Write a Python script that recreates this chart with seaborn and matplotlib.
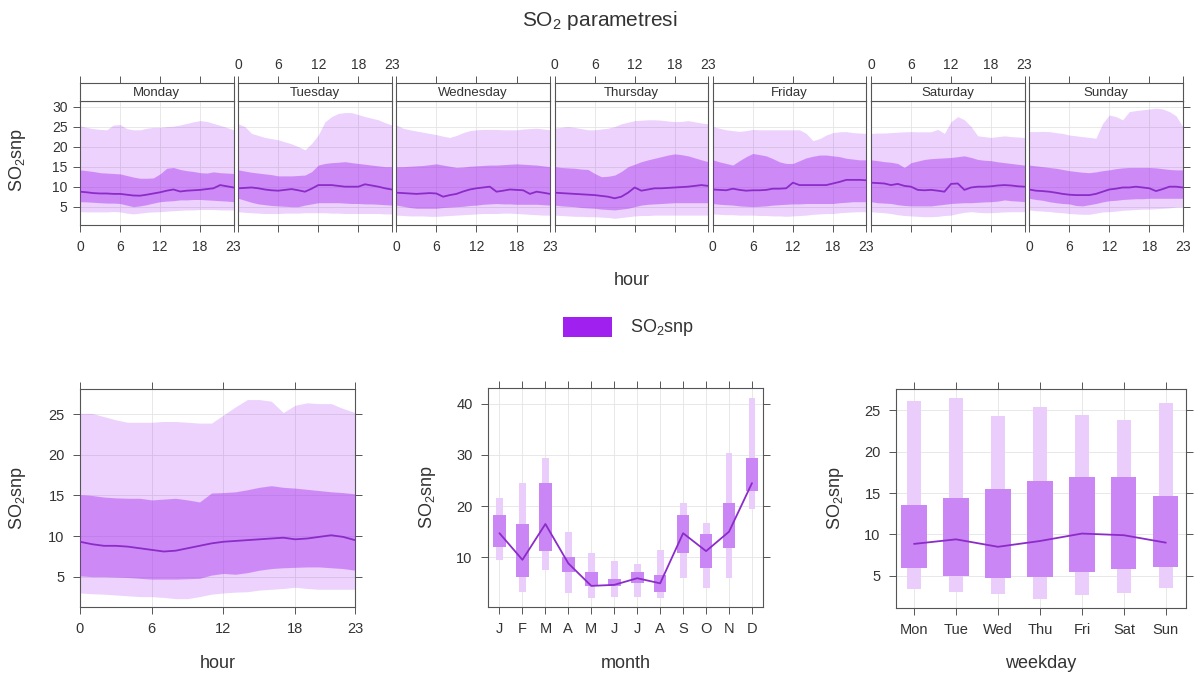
import numpy as np
import pandas as pd
import matplotlib
matplotlib.use("Agg")
import matplotlib.pyplot as plt
from matplotlib.patches import Rectangle
import seaborn as sns

sns.set_theme(style="white")
plt.rcParams['font.family'] = ['Liberation Sans', 'DejaVu Sans']
plt.rcParams['mathtext.fontset'] = 'custom'
plt.rcParams['mathtext.rm'] = 'Liberation Sans'
plt.rcParams['mathtext.it'] = 'Liberation Sans:italic'
plt.rcParams['mathtext.default'] = 'regular'

# ---------------- data ----------------
days = ["Monday", "Tuesday", "Wednesday", "Thursday", "Friday", "Saturday", "Sunday"]
hours = list(range(24))

mon_p95 = [25.2, 24.8, 24.5, 24.3, 24.2, 25.4, 25.5, 24.5, 24.2, 24.2, 24.6, 24.8, 24.8, 25.0, 25.1, 25.4, 25.8, 26.2, 26.5, 26.3, 25.8, 25.3, 24.8, 24.2]
mon_p75 = [14.2, 14.0, 13.8, 13.5, 13.4, 13.3, 13.2, 12.8, 12.4, 12.1, 12.1, 12.2, 13.2, 14.6, 14.8, 14.3, 14.0, 13.8, 13.5, 13.4, 13.7, 13.5, 13.4, 13.3]
mon_med = [8.75, 8.6, 8.4, 8.3, 8.3, 8.2, 8.2, 8.0, 7.8, 7.75, 8.0, 8.3, 8.6, 9.0, 9.3, 8.8, 9.0, 9.1, 9.2, 9.4, 9.6, 10.4, 10.1, 9.8]
mon_p25 = [6.25, 6.2, 6.1, 6.0, 5.9, 5.9, 5.8, 5.4, 5.0, 5.2, 5.5, 5.9, 6.25, 6.4, 6.5, 6.7, 6.7, 6.8, 6.8, 6.7, 6.6, 6.5, 6.4, 6.25]
mon_p5 = [3.75, 3.7, 3.7, 3.7, 3.7, 3.8, 3.7, 3.4, 3.2, 3.4, 3.6, 3.7, 3.75, 3.9, 4.0, 4.1, 4.2, 4.2, 4.3, 4.3, 4.3, 4.2, 4.2, 4.2]

tue_p95 = [25.7, 25.0, 23.3, 22.8, 22.3, 22.0, 21.7, 21.2, 20.7, 20.0, 19.2, 20.8, 22.9, 26.2, 27.5, 28.3, 28.5, 28.5, 28.0, 27.5, 27.1, 26.7, 26.0, 25.4]
tue_p75 = [14.2, 13.9, 13.6, 13.4, 13.2, 13.0, 12.7, 12.7, 12.7, 12.8, 12.9, 13.75, 15.4, 15.8, 16.0, 16.1, 16.25, 16.0, 15.8, 15.6, 15.4, 15.2, 15.0, 15.0]
tue_med = [9.6, 9.7, 9.8, 9.6, 9.3, 9.1, 9.0, 9.2, 9.4, 9.1, 8.75, 9.5, 10.4, 10.4, 10.4, 10.2, 10.0, 10.0, 10.0, 10.6, 10.3, 10.0, 9.6, 9.3]
tue_p25 = [7.1, 6.6, 6.1, 5.7, 5.5, 5.3, 5.2, 5.1, 5.0, 5.0, 5.4, 5.7, 6.0, 6.0, 6.0, 6.0, 5.9, 5.8, 5.8, 5.7, 5.7, 5.6, 5.5, 5.4]
tue_p5 = [3.75, 3.6, 3.5, 3.4, 3.3, 3.3, 3.3, 3.4, 3.4, 3.4, 3.5, 3.5, 3.5, 3.5, 3.4, 3.4, 3.3, 3.3, 3.3, 3.3, 3.3, 3.3, 3.2, 3.2]

wed_p95 = [25.4, 24.6, 24.2, 23.9, 23.6, 23.3, 23.0, 22.6, 22.3, 22.8, 23.5, 24.0, 24.2, 24.3, 24.3, 24.3, 24.2, 24.2, 24.2, 24.4, 24.5, 24.6, 24.4, 24.2]
wed_p75 = [15.0, 15.0, 15.1, 15.2, 15.3, 15.5, 15.7, 15.4, 15.1, 14.8, 14.9, 15.1, 15.2, 15.3, 15.4, 15.4, 15.5, 15.6, 15.7, 15.6, 15.5, 15.4, 15.2, 15.0]
wed_med = [8.5, 8.4, 8.3, 8.2, 8.3, 8.4, 8.3, 7.5, 7.9, 8.2, 8.8, 9.3, 9.6, 9.8, 10.0, 8.75, 9.0, 9.3, 9.2, 9.1, 8.2, 8.75, 8.5, 8.2]
wed_p25 = [5.4, 5.1, 4.8, 4.6, 4.6, 4.6, 4.6, 4.8, 4.9, 5.0, 5.1, 5.3, 5.4, 5.6, 5.7, 5.8, 5.7, 5.7, 5.6, 5.6, 5.6, 5.6, 5.5, 5.4]
wed_p5 = [2.9, 2.8, 2.7, 2.7, 2.7, 2.6, 2.6, 2.7, 2.8, 2.9, 3.0, 3.1, 3.2, 3.3, 3.3, 3.3, 3.4, 3.4, 3.3, 3.2, 3.1, 3.0, 2.9, 2.9]

thu_p95 = [24.6, 24.8, 25.0, 24.8, 24.5, 24.2, 24.2, 24.4, 24.6, 25.0, 25.7, 26.1, 26.5, 26.6, 26.7, 26.7, 26.6, 26.4, 26.25, 26.3, 26.5, 26.2, 25.9, 25.7]
thu_p75 = [15.0, 14.8, 14.7, 14.6, 14.4, 14.3, 13.3, 12.5, 12.6, 12.9, 13.8, 15.0, 15.6, 16.25, 16.7, 17.1, 17.5, 17.9, 18.2, 18.0, 17.7, 17.2, 16.7, 16.25]
thu_med = [8.5, 8.4, 8.3, 8.2, 8.1, 8.0, 7.9, 7.7, 7.5, 7.1, 7.5, 8.5, 9.8, 9.0, 9.3, 9.6, 9.6, 9.7, 9.8, 9.9, 10.0, 10.2, 10.4, 10.2]
thu_p25 = [5.4, 5.2, 5.1, 5.0, 4.8, 4.7, 4.6, 4.4, 4.3, 4.2, 4.4, 4.6, 5.0, 5.4, 5.6, 5.7, 5.8, 5.9, 6.0, 6.0, 6.0, 6.0, 6.0, 6.0]
thu_p5 = [2.9, 2.8, 2.7, 2.6, 2.6, 2.5, 2.5, 2.4, 2.3, 2.1, 2.3, 2.5, 2.7, 2.8, 2.8, 2.9, 2.9, 2.9, 2.9, 2.9, 2.9, 2.9, 2.9, 2.9]

fri_p95 = [25.0, 24.6, 24.2, 24.0, 23.8, 24.0, 24.3, 24.2, 24.2, 24.2, 24.2, 24.2, 24.2, 24.2, 23.3, 21.5, 22.0, 22.9, 23.5, 23.7, 23.75, 23.5, 23.4, 23.3]
fri_p75 = [16.7, 16.2, 15.8, 15.4, 16.5, 17.5, 18.3, 18.0, 17.7, 17.0, 16.2, 15.8, 15.8, 16.5, 17.2, 17.6, 17.9, 17.9, 17.7, 17.5, 17.1, 16.9, 16.7, 16.7]
fri_med = [9.3, 9.2, 9.1, 9.5, 9.2, 9.0, 9.1, 9.1, 9.2, 9.5, 9.5, 9.6, 11.0, 10.4, 10.4, 10.4, 10.4, 10.4, 10.8, 11.2, 11.7, 11.7, 11.7, 11.6]
fri_p25 = [5.8, 5.6, 5.5, 5.4, 5.2, 5.1, 5.0, 5.1, 5.2, 5.4, 5.5, 5.6, 5.7, 5.7, 5.8, 5.8, 5.8, 5.8, 5.8, 6.0, 6.1, 6.25, 6.25, 6.25]
fri_p5 = [3.2, 3.1, 3.0, 3.0, 2.9, 2.9, 2.9, 2.8, 2.8, 2.7, 2.7, 2.6, 2.7, 2.8, 2.9, 3.1, 3.2, 3.3, 3.3, 3.5, 3.6, 3.7, 3.75, 3.75]

sat_p95 = [23.3, 23.4, 23.4, 23.5, 23.6, 23.7, 23.75, 23.7, 23.7, 23.7, 24.3, 23.3, 26.25, 27.5, 26.7, 25.0, 22.7, 22.5, 22.3, 22.5, 22.7, 22.5, 22.4, 22.3]
sat_p75 = [16.7, 16.5, 16.25, 16.1, 15.8, 14.8, 16.0, 16.4, 16.8, 17.0, 17.1, 17.2, 17.3, 17.5, 17.7, 17.3, 16.8, 16.6, 16.5, 16.2, 16.0, 15.8, 15.6, 15.4]
sat_med = [11.0, 10.9, 10.8, 10.4, 10.7, 10.2, 10.0, 9.2, 9.1, 9.2, 9.0, 8.75, 10.7, 10.8, 9.2, 9.8, 10.0, 10.0, 10.1, 10.3, 10.4, 10.3, 10.1, 10.0]
sat_p25 = [6.25, 6.0, 5.9, 5.8, 5.5, 5.3, 5.2, 5.2, 5.2, 5.2, 5.4, 5.6, 5.8, 5.9, 6.0, 6.0, 6.1, 6.2, 6.25, 6.4, 6.7, 6.5, 6.4, 6.25]
sat_p5 = [3.75, 3.6, 3.5, 3.3, 3.0, 2.8, 2.7, 2.6, 2.5, 2.5, 2.6, 2.8, 2.9, 3.3, 3.6, 3.75, 3.6, 3.5, 3.5, 3.6, 3.7, 3.75, 3.75, 3.75]

sun_p95 = [23.75, 23.75, 23.8, 23.75, 23.5, 23.3, 22.9, 22.7, 22.5, 22.3, 22.1, 25.8, 27.9, 27.5, 26.7, 28.75, 29.0, 29.2, 29.4, 29.6, 29.4, 28.75, 27.7, 25.0]
sun_p75 = [15.4, 15.2, 15.0, 14.8, 14.6, 14.3, 14.0, 13.8, 13.6, 13.5, 13.7, 14.0, 14.2, 14.5, 14.7, 14.8, 14.8, 14.8, 14.8, 14.7, 14.5, 14.3, 14.2, 14.2]
sun_med = [9.3, 9.0, 8.9, 8.75, 8.5, 8.2, 8.0, 7.9, 7.9, 7.9, 8.2, 8.75, 9.3, 9.5, 9.8, 9.8, 10.0, 9.8, 9.6, 8.9, 9.4, 10.0, 10.0, 9.8]
sun_p25 = [7.1, 6.8, 6.6, 6.25, 6.0, 5.8, 5.7, 5.3, 5.2, 5.5, 5.8, 6.2, 6.5, 6.6, 6.8, 6.9, 7.0, 7.0, 7.1, 7.1, 7.1, 7.1, 7.1, 7.1]
sun_p5 = [4.2, 4.0, 3.9, 3.8, 3.6, 3.5, 3.3, 3.2, 3.1, 3.1, 3.4, 3.7, 3.75, 3.9, 4.1, 4.2, 4.3, 4.4, 4.4, 4.5, 4.6, 4.7, 4.9, 5.0]

hr_p95 = [25.1, 25.1, 24.7, 24.3, 24.0, 24.0, 24.0, 24.1, 24.1, 24.0, 23.9, 23.9, 24.9, 25.9, 26.8, 26.8, 26.6, 25.2, 26.1, 26.4, 26.3, 26.3, 25.7, 25.2]
hr_p75 = [15.1, 15.0, 14.8, 14.7, 14.65, 14.65, 14.45, 14.55, 14.65, 14.45, 14.2, 15.3, 15.35, 15.45, 15.7, 16.0, 16.2, 16.0, 15.9, 15.75, 15.6, 15.45, 15.35, 15.2]
hr_med = [9.3, 9.0, 8.8, 8.8, 8.7, 8.5, 8.3, 8.1, 8.2, 8.5, 8.8, 9.1, 9.3, 9.4, 9.5, 9.6, 9.7, 9.8, 9.6, 9.7, 9.9, 10.1, 9.9, 9.5]
hr_p25 = [5.1, 5.0, 5.0, 4.95, 4.9, 4.8, 4.7, 4.7, 4.7, 4.75, 4.8, 5.2, 5.4, 5.3, 5.5, 5.8, 6.0, 6.1, 6.15, 6.2, 6.2, 6.1, 6.0, 5.8]
hr_p5 = [3.0, 2.9, 2.85, 2.75, 2.65, 2.55, 2.55, 2.45, 2.3, 2.3, 2.55, 2.85, 3.0, 3.1, 3.15, 3.35, 3.45, 3.55, 3.7, 3.55, 3.45, 3.45, 3.45, 3.45]

months = ["J", "F", "M", "A", "M", "J", "J", "A", "S", "O", "N", "D"]
mo_p95 = [21.5, 24.5, 29.4, 15.0, 10.8, 9.2, 8.6, 11.4, 20.6, 16.7, 30.4, 41.1]
mo_p75 = [18.2, 16.5, 24.5, 10.1, 7.2, 5.7, 7.2, 6.5, 18.3, 14.6, 20.6, 29.4]
mo_med = [14.7, 9.5, 16.5, 8.8, 4.4, 4.6, 5.9, 4.9, 14.7, 11.2, 15.0, 24.5]
mo_p25 = [12.1, 6.2, 11.3, 7.2, 4.3, 4.3, 4.9, 3.3, 10.9, 7.8, 11.8, 22.9]
mo_p5 = [9.5, 3.3, 7.5, 3.0, 2.0, 2.3, 2.3, 2.0, 5.9, 3.9, 5.9, 19.4]

weekdays = ["Mon", "Tue", "Wed", "Thu", "Fri", "Sat", "Sun"]
wd_p95 = [26.2, 26.5, 24.3, 25.4, 24.5, 23.9, 25.9]
wd_p75 = [13.6, 14.4, 15.5, 16.5, 17.0, 16.9, 14.7]
wd_med = [8.85, 9.4, 8.5, 9.2, 10.1, 9.9, 9.0]
wd_p25 = [5.9, 4.96, 4.7, 4.8, 5.4, 5.8, 6.1]
wd_p5 = [3.35, 3.06, 2.74, 2.2, 2.65, 2.9, 3.5]

# ---------------- styles ----------------
W, H = 1200, 677
PURPLE = "#A020F0"
LINE = "#8B2CC9"
FRAME = "#555555"
GRID = "#e4e4e4"
TXT = "#333333"
BAR_LIGHT = "#EACDFB"
BAR_DARK = "#CB86F5"

fig = plt.figure(figsize=(W / 100, H / 100), dpi=100)


def rect(x, y, w, h):
    return [x / W, 1 - (y + h) / H, w / W, h / H]


def style_frame(ax):
    for s in ax.spines.values():
        s.set_color(FRAME)
        s.set_linewidth(0.8)
    ax.tick_params(colors=FRAME, labelcolor=TXT, direction="out", length=5, width=0.7)


week = {
    "Monday": (mon_p5, mon_p25, mon_med, mon_p75, mon_p95),
    "Tuesday": (tue_p5, tue_p25, tue_med, tue_p75, tue_p95),
    "Wednesday": (wed_p5, wed_p25, wed_med, wed_p75, wed_p95),
    "Thursday": (thu_p5, thu_p25, thu_med, thu_p75, thu_p95),
    "Friday": (fri_p5, fri_p25, fri_med, fri_p75, fri_p95),
    "Saturday": (sat_p5, sat_p25, sat_med, sat_p75, sat_p95),
    "Sunday": (sun_p5, sun_p25, sun_med, sun_p75, sun_p95),
}

# ---------------- top: hour x weekday ----------------
left0, step, pw = 80, 158.2, 153.5
for i, day in enumerate(days):
    p5, p25, med, p75, p95 = week[day]
    df = pd.DataFrame({"hour": hours, "median": med})
    x0 = left0 + i * step
    ax = fig.add_axes(rect(x0, 101, pw, 124))
    st = fig.add_axes(rect(x0, 83, pw, 18), sharex=ax)
    ax.fill_between(hours, p5, p95, color=PURPLE, alpha=0.2, lw=0, zorder=2)
    ax.fill_between(hours, p25, p75, color=PURPLE, alpha=0.4, lw=0, zorder=3)
    sns.lineplot(data=df, x="hour", y="median", ax=ax, color=LINE, lw=1.3, legend=False, zorder=4)
    ax.set_xlim(0, 23)
    ax.set_ylim(0.43, 31.4)
    ax.set_xticks([0, 6, 12, 18, 23])
    ax.set_yticks([5, 10, 15, 20, 25, 30])
    ax.grid(True, color=GRID, lw=0.6, zorder=0)
    ax.set_xlabel("")
    ax.set_ylabel("")
    style_frame(ax)
    ax.tick_params(axis="x", bottom=True, top=False, labelbottom=(i % 2 == 0), labelsize=10, pad=6)
    ax.tick_params(axis="y", left=(i == 0), labelleft=(i == 0), right=(i == 6), labelright=False,
                   labelsize=10, pad=4)
    # strip
    style_frame(st)
    st.set_facecolor("white")
    st.set_yticks([])
    st.tick_params(axis="x", bottom=False, labelbottom=False, top=True, labeltop=(i % 2 == 1),
                   labelsize=10, pad=3)
    st.grid(False)
    st.text(0.5, 0.45, day, transform=st.transAxes, ha="center", va="center", fontsize=9.5, color=TXT)

fig.text(18 / W, 1 - 160 / H, r"SO$_2$snp", rotation=90, ha="center", va="center", fontsize=13, color=TXT)
fig.text(632 / W, 1 - 281 / H, "hour", ha="center", va="center", fontsize=13, color=TXT)
fig.text(600 / W, 1 - 20 / H, r"SO$_2$ parametresi", ha="center", va="center", fontsize=15, color=TXT)

# legend
fig.patches.append(Rectangle((563 / W, 1 - 337 / H), 49 / W, 20 / H, transform=fig.transFigure,
                             facecolor=PURPLE, edgecolor="none"))
fig.text(630 / W, 1 - 327 / H, r"SO$_2$snp", ha="left", va="center", fontsize=13, color=TXT)

# ---------------- bottom left: hour ----------------
ax1 = fig.add_axes(rect(80, 389, 275, 218))
dfh = pd.DataFrame({"hour": hours, "median": hr_med})
ax1.fill_between(hours, hr_p5, hr_p95, color=PURPLE, alpha=0.2, lw=0, zorder=2)
ax1.fill_between(hours, hr_p25, hr_p75, color=PURPLE, alpha=0.4, lw=0, zorder=3)
sns.lineplot(data=dfh, x="hour", y="median", ax=ax1, color=LINE, lw=1.3, legend=False, zorder=4)
ax1.set_xlim(0, 23)
ax1.set_ylim(1.27, 28.1)
ax1.set_xticks([0, 6, 12, 18, 23])
ax1.set_yticks([5, 10, 15, 20, 25])

# ---------------- bottom middle: month ----------------
ax2 = fig.add_axes(rect(488, 388, 275, 219))
mx = np.arange(len(months))
ax2.bar(mx, np.array(mo_p95) - np.array(mo_p5), bottom=mo_p5, width=0.3, color=BAR_LIGHT, lw=0, zorder=2)
ax2.bar(mx, np.array(mo_p75) - np.array(mo_p25), bottom=mo_p25, width=0.55, color=BAR_DARK, lw=0, zorder=3)
sns.lineplot(x=mx, y=mo_med, ax=ax2, color=LINE, lw=1.3, legend=False, zorder=4)
ax2.set_xlim(-0.5, 11.48)
ax2.set_ylim(0.27, 43.1)
ax2.set_xticks(mx)
ax2.set_xticklabels(months)
ax2.set_yticks([10, 20, 30, 40])

# ---------------- bottom right: weekday ----------------
ax3 = fig.add_axes(rect(896, 389, 290, 219))
wx = np.arange(len(weekdays))
ax3.bar(wx, np.array(wd_p95) - np.array(wd_p5), bottom=wd_p5, width=0.35, color=BAR_LIGHT, lw=0, zorder=2)
ax3.bar(wx, np.array(wd_p75) - np.array(wd_p25), bottom=wd_p25, width=0.6, color=BAR_DARK, lw=0, zorder=3)
sns.lineplot(x=wx, y=wd_med, ax=ax3, color=LINE, lw=1.3, legend=False, zorder=4)
ax3.set_xlim(-0.43, 6.48)
ax3.set_ylim(1.09, 27.6)
ax3.set_xticks(wx)
ax3.set_xticklabels(weekdays)
ax3.set_yticks([5, 10, 15, 20, 25])

for ax, xl, ylx in [(ax1, "hour", 18), (ax2, "month", 427), (ax3, "weekday", 835)]:
    ax.grid(True, color=GRID, lw=0.6, zorder=0)
    ax.set_xlabel("")
    ax.set_ylabel("")
    style_frame(ax)
    ax.tick_params(axis="both", top=True, right=True, bottom=True, left=True,
                   labeltop=False, labelright=False, labelsize=10.5, pad=6)
    bb = ax.get_position()
    fig.text((bb.x0 + bb.x1) / 2, 1 - 663 / H, xl, ha="center", va="center", fontsize=13, color=TXT)
    fig.text(ylx / W, (bb.y0 + bb.y1) / 2, r"SO$_2$snp", rotation=90, ha="center", va="center",
             fontsize=13, color=TXT)

fig.savefig("out.png", dpi=100, facecolor="white")
